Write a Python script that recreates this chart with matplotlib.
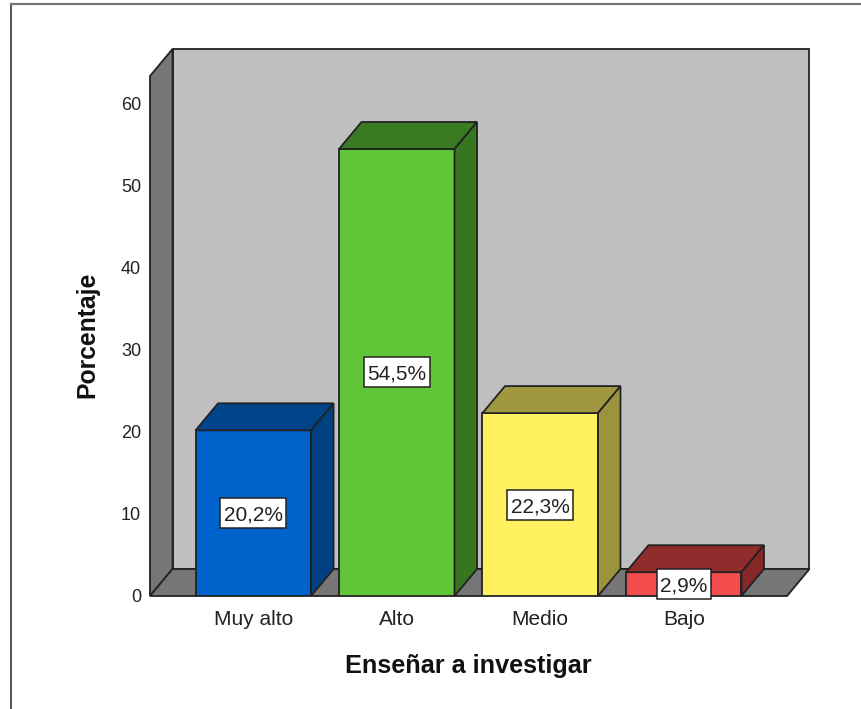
import matplotlib
matplotlib.use("Agg")
import matplotlib.pyplot as plt
from matplotlib.patches import Polygon, Rectangle

plt.rcParams['font.family'] = ['Liberation Sans', 'DejaVu Sans']

categories = ["Muy alto", "Alto", "Medio", "Bajo"]
values = [20.2, 54.5, 22.3, 2.9]
labels = ["20,2%", "54,5%", "22,3%", "2,9%"]
front_colors = ["#0063CC", "#5FC638", "#FFF060", "#F24C4C"]
top_colors = ["#00448C", "#3A7A22", "#A09840", "#8F2C2C"]
side_colors = ["#003F80", "#37751F", "#9C943C", "#872828"]
y_ticks = [0, 10, 20, 30, 40, 50, 60]

W, H = 862, 709
fig = plt.figure(figsize=(W / 100, H / 100), dpi=100)

# outer frame, only top and left are in the crop
fig.add_artist(plt.Line2D([11.5 / W, 11.5 / W], [0, 1 - 3.5 / H], color="#333333", lw=1.2))
fig.add_artist(plt.Line2D([11.5 / W, 1], [1 - 3.5 / H, 1 - 3.5 / H], color="#777777", lw=1.6))

ax = fig.add_axes([150 / W, 1 - 596 / H, 637 / W, 520 / H])
ax.set_xlim(-0.72, 3.72)
ax.set_ylim(0, 63.4)
for s in ax.spines.values():
    s.set_visible(False)
ax.patch.set_visible(False)

# depth of the fake 3d box, in data units
px_x = 637 / (3.72 + 0.72)
px_y = 520 / 63.4
dx = 22.5 / px_x
dy = 27 / px_y
x0, x1 = ax.get_xlim()
y0, y1 = ax.get_ylim()
edge = "#222222"

ax.add_patch(Polygon([(x0 + dx, y0 + dy), (x1 + dx, y0 + dy), (x1 + dx, y1 + dy), (x0 + dx, y1 + dy)],
                     fc="#BFBFBF", ec=edge, lw=1.3, clip_on=False, zorder=1))
ax.add_patch(Polygon([(x0, y0), (x0 + dx, y0 + dy), (x0 + dx, y1 + dy), (x0, y1)],
                     fc="#767676", ec=edge, lw=1.3, clip_on=False, zorder=1))
ax.add_patch(Polygon([(x0, y0), (x1, y0), (x1 + dx, y0 + dy), (x0 + dx, y0 + dy)],
                     fc="#767676", ec=edge, lw=1.3, clip_on=False, zorder=1))

bar_w = 115.5 / px_x
xs = range(len(categories))
bars = ax.bar(xs, values, width=bar_w, color=front_colors, edgecolor=edge, linewidth=1.3, zorder=3)
for b, top_c, side_c in zip(bars, top_colors, side_colors):
    l, r, h = b.get_x(), b.get_x() + b.get_width(), b.get_height()
    ax.add_patch(Polygon([(l, h), (r, h), (r + dx, h + dy), (l + dx, h + dy)],
                         fc=top_c, ec=edge, lw=1.3, clip_on=False, zorder=3))
    ax.add_patch(Polygon([(r, 0), (r + dx, dy), (r + dx, h + dy), (r, h)],
                         fc=side_c, ec=edge, lw=1.3, clip_on=False, zorder=3))

# label boxes are taller than the text, so draw them from the text size
renderer = fig.canvas.get_renderer()
for i, (v, t) in enumerate(zip(values, labels)):
    txt = ax.text(i, v / 2, t, ha="center", va="center_baseline", fontsize=15, color="#222222", zorder=6)
    box_w = (txt.get_window_extent(renderer).width + 7) / px_x
    box_h = 30 / px_y
    ax.add_patch(Rectangle((i - box_w / 2, v / 2 - box_h / 2), box_w, box_h, fc="white", ec="#222222",
                           lw=1.1, clip_on=False, zorder=5))

ax.set_xticks(list(xs))
ax.set_xticklabels(categories, fontsize=15, color="#222222")
ax.set_yticks(y_ticks)
ax.tick_params(axis="both", length=0)
ax.tick_params(axis="x", pad=10)
ax.tick_params(axis="y", labelsize=13, labelcolor="#222222", pad=6.5)

fig.text(468 / W, 1 - 666 / H, "Enseñar a investigar", ha="center", va="center", fontsize=18.2, fontweight="bold", color="#111111")
fig.text(87 / W, 1 - 335 / H, "Porcentaje", ha="center", va="center", rotation=90, fontsize=17.8, fontweight="bold", color="#111111")

fig.savefig("out.png", dpi=100)
